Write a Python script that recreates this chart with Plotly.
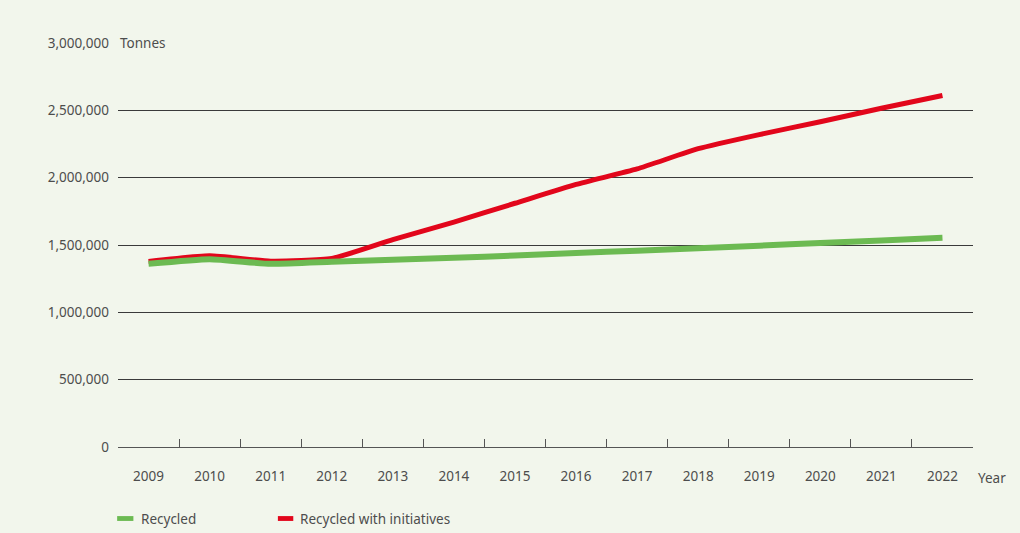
import plotly.graph_objects as go

# Tonnes of waste recycled per year, with and without the initiatives
years = ["2009", "2010", "2011", "2012", "2013", "2014", "2015",
         "2016", "2017", "2018", "2019", "2020", "2021", "2022"]
recycled = [1360000, 1395000, 1360000, 1375000, 1390000, 1405000, 1422000,
            1440000, 1458000, 1475000, 1495000, 1515000, 1533000, 1553000]
recycled_initiatives = [1378000, 1420000, 1380000, 1400000, 1540000, 1670000, 1810000,
                        1950000, 2065000, 2215000, 2320000, 2415000, 2515000, 2610000]
y_ticks = [0, 500000, 1000000, 1500000, 2000000, 2500000, 3000000]

BG = "#f2f6ec"
TEXT = "#4d4d4d"
GREEN = "#6cba52"
RED = "#e2061b"
FONT = "Noto Sans"
FS = 13.5

fig = go.Figure()
# red series underneath so the green line sits on top where they overlap
fig.add_trace(go.Scatter(
    x=years, y=recycled_initiatives, mode="lines", name="Recycled with initiatives",
    line=dict(color=RED, width=5, shape="spline", smoothing=0.5),
    showlegend=False,
))
fig.add_trace(go.Scatter(
    x=years, y=recycled, mode="lines", name="Recycled",
    line=dict(color=GREEN, width=6, shape="spline", smoothing=0.5),
    showlegend=False,
))

fig.update_layout(
    width=1020, height=533,
    margin=dict(l=118, r=47, t=43, b=86),
    paper_bgcolor=BG, plot_bgcolor=BG,
    font=dict(family=FONT, size=FS, color=TEXT),
    xaxis=dict(
        type="category", showgrid=False, showline=True, linecolor="#555555", linewidth=1.3,
        ticks="inside", tickson="boundaries", ticklen=8, tickcolor="#555555", tickwidth=1.3,
        ticklabelstandoff=17, tickfont=dict(size=FS, color=TEXT),
        range=[-0.5, len(years) - 0.5],
    ),
    yaxis=dict(
        range=[0, 3000000], tickvals=y_ticks,
        ticktext=[f"{v:,}" for v in y_ticks],
        showgrid=True, gridcolor="#3a3a3a", gridwidth=1.3,
        zeroline=False, showline=False, ticks="",
        ticklabelstandoff=8, tickfont=dict(size=FS, color=TEXT),
    ),
    shapes=[
        # clear the top gridline behind the unit label
        dict(type="rect", xref="paper", yref="paper", x0=-0.001, x1=0.075, y0=0.97, y1=1.03,
             fillcolor=BG, line=dict(width=0), layer="above"),
        # legend swatches
        dict(type="rect", xref="paper", yref="paper", x0=-0.001, x1=0.018, y0=-0.183, y1=-0.171,
             fillcolor=GREEN, line=dict(width=0)),
        dict(type="rect", xref="paper", yref="paper", x0=0.187, x1=0.205, y0=-0.183, y1=-0.171,
             fillcolor=RED, line=dict(width=0)),
    ],
    annotations=[
        dict(text="Tonnes", xref="paper", yref="paper", x=0, y=1, xanchor="left", yanchor="middle",
             showarrow=False, font=dict(size=FS, color=TEXT)),
        dict(text="Year", xref="paper", yref="paper", x=1.004, y=-0.077, xanchor="left", yanchor="middle",
             showarrow=False, font=dict(size=FS, color=TEXT)),
        dict(text="Recycled", xref="paper", yref="paper", x=0.025, y=-0.177, xanchor="left", yanchor="middle",
             showarrow=False, font=dict(size=FS, color=TEXT)),
        dict(text="Recycled with initiatives", xref="paper", yref="paper", x=0.211, y=-0.177,
             xanchor="left", yanchor="middle", showarrow=False, font=dict(size=FS, color=TEXT)),
    ],
)

fig.write_html("out.html")
